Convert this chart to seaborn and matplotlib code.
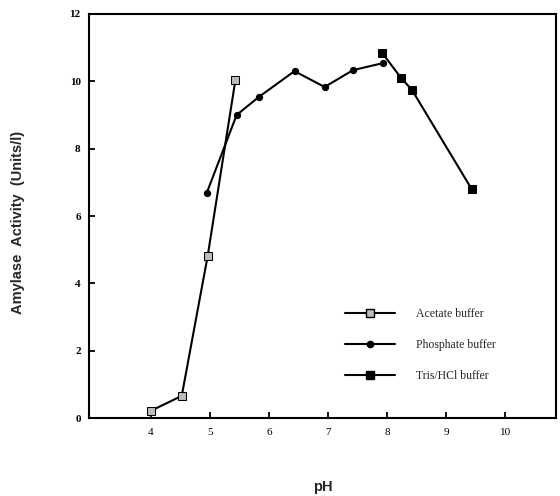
import pandas as pd
import seaborn as sns
import matplotlib.pyplot as plt
from matplotlib.lines import Line2D

# values
acetate_ph = [4.0, 4.52, 4.96, 5.43]
acetate_act = [0.22, 0.66, 4.82, 10.05]
phosphate_ph = [4.94, 5.45, 5.83, 6.43, 6.94, 7.42, 7.93]
phosphate_act = [6.67, 9.0, 9.54, 10.3, 9.83, 10.33, 10.54]
tris_ph = [7.92, 8.23, 8.42, 9.43]
tris_act = [10.83, 10.11, 9.74, 6.8]
buffers = ['Acetate buffer', 'Phosphate buffer', 'Tris/HCl buffer']

df = pd.DataFrame({
    'pH': acetate_ph + phosphate_ph + tris_ph,
    'activity': acetate_act + phosphate_act + tris_act,
    'buffer': [buffers[0]] * len(acetate_ph) + [buffers[1]] * len(phosphate_ph) + [buffers[2]] * len(tris_ph),
})

sns.set_style('white')
plt.rcParams['font.family'] = ['Liberation Serif', 'DejaVu Serif']

fig = plt.figure(figsize=(5.6, 4.96), dpi=100)
ax = fig.add_axes([0.159, 0.157, 0.834, 0.815])

ax = sns.lineplot(data=df, x='pH', y='activity', hue='buffer', style='buffer',
                  palette=['black'] * 3, markers=['s', 'o', 's'], dashes=False,
                  sort=False, ax=ax, linewidth=1.5, markersize=5,
                  markeredgecolor='black', legend=False)

# marker look per buffer
ax.lines[0].set_markerfacecolor('#bbbbbb')
ax.lines[0].set_markersize(5.5)
ax.lines[1].set_markersize(4.5)
ax.lines[2].set_markersize(6)

ax.set_xlim(2.95, 10.86)
ax.set_ylim(0, 12)
ax.set_xticks([4, 5, 6, 7, 8, 9, 10])
ax.set_yticks([0, 2, 4, 6, 8, 10, 12])
ax.tick_params(bottom=True, left=True, direction='in', length=4, width=1.3,
               labelsize=8, colors='black')
ax.tick_params(axis='x', pad=7)
ax.tick_params(axis='y', pad=6)
for lab in ax.get_yticklabels():
    lab.set_fontweight('bold')
for s in ax.spines.values():
    s.set_linewidth(1.5)
    s.set_color('black')

ax.set_xlabel('pH', fontsize=10.5, fontweight='bold', family=['Liberation Sans', 'DejaVu Sans'])
ax.set_ylabel('Amylase  Activity  (Units/l)', fontsize=10.5, fontweight='bold',
              family=['Liberation Sans', 'DejaVu Sans'])
ax.xaxis.set_label_coords(0.5, -0.152)
ax.yaxis.set_label_coords(-0.138, 0.485)

handles = [
    Line2D([], [], color='black', lw=1.5, marker='s', ms=5.5, mfc='#bbbbbb', mec='black'),
    Line2D([], [], color='black', lw=1.5, marker='o', ms=4.5, mfc='black', mec='black'),
    Line2D([], [], color='black', lw=1.5, marker='s', ms=6, mfc='black', mec='black'),
]
ax.legend(handles, buffers, frameon=False, loc='upper left', bbox_to_anchor=(0.526, 0.298),
          handlelength=4.2, handletextpad=1.8, labelspacing=1.6, fontsize=8.5)

plt.savefig('out.png', dpi=100)
